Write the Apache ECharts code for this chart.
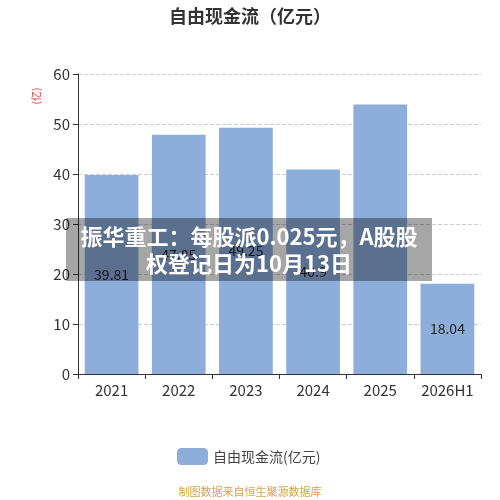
<!DOCTYPE html>
<html>
<head>
<meta charset="utf-8">
<script src="https://cdn.jsdelivr.net/npm/echarts@6/dist/echarts.min.js"></script>
<style>
  html, body { margin: 0; padding: 0; background: #fff; }
  #chart { width: 500px; height: 500px; }
</style>
</head>
<body>
<div id="chart"></div>
<script>
"use strict";

let years = ["2021", "2022", "2023", "2024", "2025", "2026H1"];
let cashFlow = [39.81, 47.85, 49.25, 40.9, 53.9, 18.04];
let showLabel = [true, true, true, true, false, true];
let yTicks = { min: 0, max: 60, step: 10 };

let font = "'Noto Sans CJK SC', 'Noto Sans', sans-serif";

let barData = cashFlow.map(function (v, i) {
    return { value: v, label: { show: showLabel[i] } };
});

let chart = echarts.init(document.getElementById("chart"));

chart.setOption({
    animation: false,
    textStyle: { fontFamily: font },
    title: {
        text: "自由现金流（亿元）",
        left: "center",
        top: 2,
        textStyle: { fontSize: 18, fontWeight: "bold", color: "#333", fontFamily: font }
    },
    grid: { show: false, left: 78, right: 19, top: 74, bottom: 126 },
    legend: {
        bottom: 30,
        left: 172,
        itemWidth: 31,
        itemHeight: 17,
        icon: "roundRect",
        textStyle: { fontSize: 14, color: "#444" },
        data: ["自由现金流(亿元)"]
    },
    xAxis: {
        type: "category",
        data: years,
        axisLine: { lineStyle: { color: "#333" } },
        axisTick: { show: true, lineStyle: { color: "#333" } },
        axisLabel: { fontSize: 15, color: "#333", margin: 9, interval: 0 },
        splitLine: { show: false }
    },
    yAxis: {
        type: "value",
        min: yTicks.min,
        max: yTicks.max,
        interval: yTicks.step,
        axisLine: { show: true, lineStyle: { color: "#333", type: "solid" } },
        axisTick: { show: true, lineStyle: { color: "#333" } },
        axisLabel: { fontSize: 15, color: "#333", margin: 8 },
        splitLine: { lineStyle: { type: "dashed", color: "#ccc" } }
    },
    series: [{
        name: "自由现金流(亿元)",
        type: "bar",
        data: barData,
        barWidth: "80%",
        itemStyle: { color: "#8DADDA" },
        label: {
            show: true,
            position: "inside",
            fontSize: 14,
            color: "#222"
        }
    }],
    graphic: [
        {
            type: "text",
            x: 36,
            y: 96,
            rotation: Math.PI / 2,
            style: {
                text: "(亿)",
                fill: "#e53333",
                font: "10px " + font,
                align: "center",
                verticalAlign: "middle"
            }
        },
        {
            type: "rect",
            shape: { x: 66, y: 218, width: 366, height: 63 },
            style: { fill: "rgba(0,0,0,0.35)" },
            z: 100
        },
        {
            type: "text",
            x: 249,
            y: 250,
            z: 101,
            style: {
                text: "振华重工：每股派0.025元，A股股\n权登记日为10月13日",
                fill: "#fff",
                font: "bold 22px " + font,
                lineHeight: 27,
                align: "center",
                verticalAlign: "middle"
            }
        },
        {
            type: "text",
            left: "center",
            top: 486,
            style: {
                text: "制图数据来自恒生聚源数据库",
                fill: "#d9a04a",
                font: "11px " + font
            }
        }
    ]
});
</script>
</body>
</html>
